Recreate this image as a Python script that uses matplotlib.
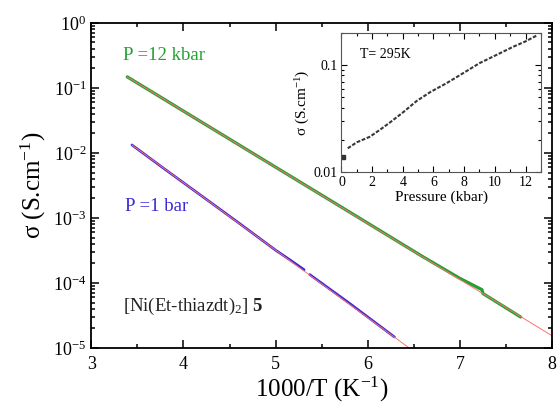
import matplotlib
matplotlib.use("Agg")
import matplotlib.pyplot as plt
from matplotlib.ticker import LogLocator, MultipleLocator, FixedLocator, NullFormatter
import numpy as np

plt.rcParams['font.family'] = ['Liberation Serif', 'DejaVu Serif']
plt.rcParams['mathtext.fontset'] = 'custom'
plt.rcParams['mathtext.rm'] = 'Liberation Serif'
plt.rcParams['mathtext.it'] = 'Liberation Serif:italic'
plt.rcParams['mathtext.bf'] = 'Liberation Serif:bold'

# main panel data: 1000/T (K^-1) vs sigma (S/cm)
x_12kbar = [3.39, 3.80, 4.20, 4.60, 5.00, 5.40, 5.80, 6.20, 6.60, 7.00, 7.24, 7.25, 7.66]
s_12kbar = [0.148, 0.0656, 0.0296, 0.0134, 6.05e-3, 2.74e-3, 1.24e-3, 5.6e-4, 2.53e-4,
            1.18e-4, 7.9e-5, 6.9e-5, 3.0e-5]
x_1bar_a = [3.44, 3.80, 4.20, 4.60, 5.00, 5.15, 5.31]
s_1bar_a = [0.0133, 5.6e-3, 2.17e-3, 8.4e-4, 3.2e-4, 2.3e-4, 1.6e-4]
x_1bar_b = [5.37, 5.80, 6.29]
s_1bar_b = [1.35e-4, 4.9e-5, 1.48e-5]
# linear fits (red)
fit12_x = [3.39, 8.0]
fit12_s = [0.148, 1.55e-5]
fit1_x = [3.44, 6.50]
fit1_s = [0.0133, 8.9e-6]

# inset data: sigma vs pressure at 295 K
p_kbar = [0.1, 0.41, 1.0, 1.85, 2.5, 3.15, 4.0, 4.89, 5.8, 6.85, 8.0, 9.0, 10.1, 11.2, 12.0, 12.72]
s_p = [0.0140, 0.0167, 0.019, 0.0214, 0.0248, 0.029, 0.036, 0.046, 0.056, 0.0676,
       0.085, 0.104, 0.124, 0.148, 0.166, 0.188]

green = '#24a032'
blue = '#3a28d8'
red = '#ff7070'

fig = plt.figure(figsize=(5.57, 4.09), dpi=100)
ax = fig.add_axes([0.164, 0.149, 0.827, 0.795])

ax.plot(x_12kbar, s_12kbar, color=green, lw=2.3, solid_capstyle='round')
ax.plot(x_1bar_a, s_1bar_a, color=blue, lw=1.9, solid_capstyle='round')
ax.plot(x_1bar_b, s_1bar_b, color=blue, lw=1.9, solid_capstyle='round')
ax.plot(fit12_x, fit12_s, color=red, lw=0.7)
ax.plot(fit1_x, fit1_s, color=red, lw=0.7)

ax.set_yscale('log')
ax.set_xlim(3, 8)
ax.set_ylim(1e-5, 1)
ax.xaxis.set_major_locator(MultipleLocator(1))
ax.xaxis.set_minor_locator(MultipleLocator(0.5))
ax.yaxis.set_major_locator(LogLocator(base=10, numticks=10))
ax.yaxis.set_minor_locator(LogLocator(base=10, subs=np.arange(2, 10), numticks=10))
ax.yaxis.set_minor_formatter(NullFormatter())
ax.tick_params(which='both', direction='in', top=True, right=True, labelsize=13, width=1.1)
ax.tick_params(which='major', length=6)
ax.tick_params(which='minor', length=3)
ax.tick_params(axis='x', pad=6)
for sp in ax.spines.values():
    sp.set_linewidth(1.3)
ax.set_xlabel('1000/T (K$^{-1}$)', fontsize=18, labelpad=1)
ax.set_ylabel('σ (S.cm$^{-1}$)', fontsize=18, labelpad=4)

ax.text(3.34, 0.32, 'P =12 kbar', color=green, fontsize=13.5, va='center')
ax.text(3.36, 1.5e-3, 'P =1 bar', color=blue, fontsize=13.5, va='center')
ax.text(3.34, 4.3e-5, r'[Ni(Et-thiazdt)$_2$] $\mathbf{5}$', color='#222222', fontsize=13.5, va='center')

# inset
ins = fig.add_axes([0.613, 0.579, 0.358, 0.341])
ins.plot(p_kbar[:1], s_p[:1], color='#333333', lw=0, marker='s', ms=2.2)
ins.plot(p_kbar[1:], s_p[1:], color='#383838', lw=1.5, ls=(0, (1.8, 0.8)))
ins.set_yscale('log')
ins.set_xlim(0, 13)
ins.set_ylim(0.01, 0.2)
ins.xaxis.set_major_locator(FixedLocator([0, 2, 4, 6, 8, 10, 12]))
ins.xaxis.set_minor_locator(MultipleLocator(1))
ins.yaxis.set_major_locator(FixedLocator([0.01, 0.1]))
ins.yaxis.set_minor_locator(LogLocator(base=10, subs=np.arange(2, 10), numticks=10))
ins.yaxis.set_minor_formatter(NullFormatter())
ins.set_yticklabels(['0.01', '0.1'])
ins.tick_params(which='both', direction='in', top=True, right=True, labelsize=10, width=0.8, pad=3)
ins.tick_params(which='major', length=4)
ins.tick_params(which='minor', length=2)
for sp in ins.spines.values():
    sp.set_linewidth(0.8)
    sp.set_color('#555555')
ins.set_xlabel('Pressure (kbar)', fontsize=11, labelpad=1)
ins.set_ylabel('σ (S.cm$^{-1}$)', fontsize=11, labelpad=1)
ins.text(1.2, 0.124, 'T= 295K', fontsize=10, va='center')

fig.savefig('out.png', dpi=100)
